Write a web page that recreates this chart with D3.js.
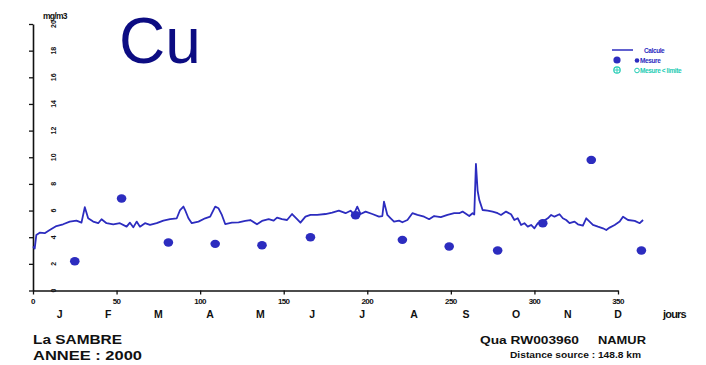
<!DOCTYPE html>
<html><head><meta charset="utf-8">
<script src="https://cdn.jsdelivr.net/npm/d3@7"></script>
<style>html,body{margin:0;padding:0;background:#fff;}svg{display:block;}</style>
</head><body>
<svg id="c" width="706" height="365"></svg>
<script>
// ---- data ----
const calcDays = [0,1,2,4,7,10,14,18,22,26,29,31,33,36,39,41,44,48,52,56,58,60,62,64,67,70,74,78,82,86,88,90,91,93,95,99,103,106,109,111,113,115,119,123,127,130,134,137,141,144,146,149,152,155,158,160,163,166,170,175,179,183,187,190,192,194,196,199,203,207,209,210,212,214,216,219,221,224,227,230,234,237,240,244,248,252,255,257,261,263,264,265,266,267,269,272,275,278,280,283,286,288,290,292,294,296,298,300,302,305,308,310,312,315,317,319,321,324,326,329,331,333,335,338,341,343,345,348,351,353,356,360,363,365];
const calcValues = [3.3,3.15,4.17,4.34,4.3,4.54,4.84,4.97,5.17,5.24,5.09,6.25,5.42,5.17,5.05,5.35,5.05,4.97,5.05,4.79,5.09,4.74,5.17,4.79,5.05,4.92,5.05,5.24,5.35,5.42,6.04,6.3,6.04,5.42,5.05,5.17,5.42,5.54,6.29,6.17,5.67,4.99,5.09,5.12,5.22,5.29,4.97,5.22,5.35,5.24,5.47,5.35,5.29,5.74,5.35,5.09,5.54,5.67,5.67,5.74,5.84,5.99,5.8,5.99,5.74,6.29,5.74,5.92,5.74,5.54,5.59,6.67,5.67,5.42,5.17,5.24,5.12,5.29,5.8,5.67,5.54,5.35,5.59,5.5,5.67,5.8,5.8,5.92,5.59,5.8,5.7,9.5,7.5,6.8,6.04,6.0,5.92,5.8,5.67,5.92,5.72,5.29,5.42,4.92,5.05,4.79,4.92,4.67,5.05,5.17,5.42,5.67,5.54,5.72,5.42,5.29,5.05,5.17,4.97,4.87,5.42,5.17,4.92,4.79,4.67,4.54,4.72,4.92,5.17,5.54,5.29,5.22,5.05,5.29];
const mesDays = [25,53,81,109,137,166,193,221,249,278,305,334,364];
const mesValues = [2.2,6.9,3.6,3.5,3.4,4.0,5.65,3.8,3.3,3.0,5.05,9.8,3.0];
const yTicks = [0,2,4,6,8,10,12,14,16,18,20];
const xTicks = [0,50,100,150,200,250,300,350];
const monthLabels = ["J","F","M","A","M","J","J","A","S","O","N","D"];
const monthMid = [16,45,75,106,136,167,197,228,259,289,320,350];
const legendItems = ["Calcule","Mesure","Mesure < limite"];

// ---- chart ----
const svg = d3.select("#c");
const blue = "#2c2cbf";
const cyan = "#22ccb4";
const font = "'Liberation Sans', Arial, sans-serif";
const x = d3.scaleLinear().domain([0,350]).range([33,618]);
const y = d3.scaleLinear().domain([0,20]).range([290.5,24]);

// y axis
const ya = svg.append("g").attr("transform","translate(33,0)")
  .call(d3.axisLeft(y).tickValues(yTicks).tickSize(4).tickSizeOuter(0).tickFormat(""));
ya.select(".domain").attr("stroke","#111").attr("stroke-width",1.6);
ya.selectAll(".tick line").attr("stroke","#111").attr("stroke-width",1.3);
ya.selectAll(".ytl").data(yTicks).enter().append("text")
  .attr("transform",d=>`translate(23,${y(d)}) rotate(-90)`)
  .attr("text-anchor","middle").attr("font-family",font).attr("font-weight","bold")
  .attr("font-size",7).attr("fill","#111").text(d=>d);

// x axis
const xa = svg.append("g").attr("transform","translate(0,290.5)")
  .call(d3.axisBottom(x).tickValues(xTicks).tickSize(4).tickSizeOuter(0).tickFormat(""));
xa.select(".domain").attr("stroke","#111").attr("stroke-width",1.6);
xa.selectAll(".tick line").attr("stroke","#111").attr("stroke-width",1.3);
svg.selectAll(".xtl").data(xTicks).enter().append("text")
  .attr("x",d=>x(d)).attr("y",304).attr("text-anchor","middle")
  .attr("font-family",font).attr("font-weight","bold").attr("font-size",8)
  .attr("letter-spacing",-0.6).attr("fill","#111").text(d=>d);
svg.selectAll(".mtl").data(monthLabels).enter().append("text")
  .attr("x",(d,i)=>x(monthMid[i])).attr("y",318).attr("text-anchor","middle")
  .attr("font-family",font).attr("font-weight","bold").attr("font-size",10.5)
  .attr("fill","#111").text(d=>d);
svg.append("text").attr("x",663).attr("y",318).attr("font-family",font)
  .attr("font-weight","bold").attr("font-size",11).attr("letter-spacing",-0.8)
  .attr("fill","#111").text("jours");

// unit + title
svg.append("text").attr("x",43).attr("y",19).attr("font-family",font)
  .attr("font-weight","bold").attr("font-size",8.5).attr("letter-spacing",-0.7)
  .attr("fill","#111").text("mg/m3");
svg.append("text").attr("x",119).attr("y",63).attr("font-family",font)
  .attr("font-size",64).attr("fill","#0c0c82").text("Cu");

// line
const line = d3.line().x((d,i)=>x(calcDays[i])).y(d=>y(d)).curve(d3.curveLinear);
svg.append("path").attr("d",line(calcValues)).attr("fill","none")
  .attr("stroke",blue).attr("stroke-width",1.8).attr("stroke-linejoin","round");

// measured points
svg.selectAll(".mes").data(mesValues).enter().append("ellipse")
  .attr("cx",(d,i)=>x(mesDays[i])).attr("cy",d=>y(d)).attr("rx",4.8).attr("ry",4.2)
  .attr("fill",blue);

// legend
const lg = svg.append("g").attr("font-family",font).attr("font-weight","bold")
  .attr("font-size",6.5).attr("letter-spacing",-0.4);
lg.append("line").attr("x1",612).attr("x2",633).attr("y1",50).attr("y2",50)
  .attr("stroke",blue).attr("stroke-width",1.5);
lg.append("text").attr("x",644).attr("y",52.5).attr("fill",blue).text(legendItems[0]);
lg.append("circle").attr("cx",617).attr("cy",60).attr("r",3.6).attr("fill",blue);
lg.append("circle").attr("cx",637).attr("cy",60.5).attr("r",2.3).attr("fill",blue);
lg.append("text").attr("x",640).attr("y",62.5).attr("fill",blue).text(legendItems[1]);
lg.append("circle").attr("cx",617).attr("cy",70).attr("r",3.2).attr("fill","none").attr("stroke",cyan).attr("stroke-width",1.2);
lg.append("path").attr("d","M614,70H620M617,67V73").attr("stroke",cyan).attr("stroke-width",0.9);
lg.append("circle").attr("cx",637).attr("cy",70.5).attr("r",2.3).attr("fill","none").attr("stroke",cyan).attr("stroke-width",1);
lg.append("text").attr("x",640).attr("y",72.5).attr("fill",cyan).text(legendItems[2]);

// footer
const ft = svg.append("g").attr("font-family",font).attr("fill","#111").attr("font-weight","bold");
ft.append("text").attr("x",33).attr("y",344).attr("font-size",13.5)
  .attr("textLength",89).attr("lengthAdjust","spacingAndGlyphs").text("La SAMBRE");
ft.append("text").attr("x",33).attr("y",360).attr("font-size",13.5)
  .attr("textLength",109).attr("lengthAdjust","spacingAndGlyphs").text("ANNEE : 2000");
ft.append("text").attr("x",480).attr("y",344).attr("font-size",11)
  .attr("textLength",99).attr("lengthAdjust","spacingAndGlyphs").text("Qua RW003960");
ft.append("text").attr("x",598).attr("y",344).attr("font-size",11)
  .attr("textLength",48).attr("lengthAdjust","spacingAndGlyphs").text("NAMUR");
ft.append("text").attr("x",510).attr("y",358).attr("font-size",9)
  .attr("textLength",131).attr("lengthAdjust","spacingAndGlyphs").text("Distance source : 148.8 km");
</script>
</body></html>
